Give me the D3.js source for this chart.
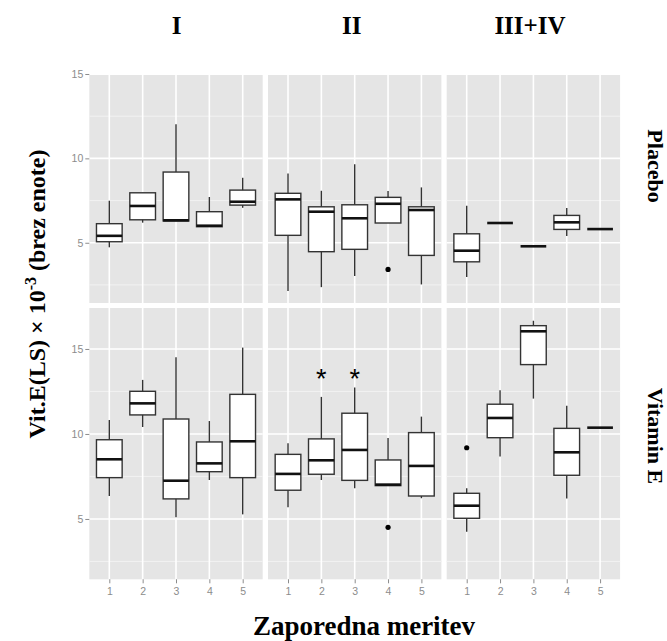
<!DOCTYPE html>
<html>
<head>
<meta charset="utf-8">
<script src="https://cdn.jsdelivr.net/npm/d3@7"></script>
<style>
  body { margin: 0; background: #fff; }
</style>
</head>
<body>
<div id="chart"></div>
<script>
// podatki: [spodnji brk, Q1, mediana, Q3, zgornji brk]
const groups = ['I', 'II', 'III+IV']
const treatments = ['Placebo', 'Vitamin E']
const measurements = ['1', '2', '3', '4', '5']
const yTicks = [5, 10, 15]
const yMinor = [2.5, 7.5, 12.5]

const placeboI = [[4.73, 5.06, 5.41, 6.13, 7.49], [6.19, 6.36, 7.18, 7.96, 7.96], [6.29, 6.29, 6.33, 9.19, 12.02], [5.95, 5.95, 6.01, 6.84, 7.71], [7.07, 7.23, 7.43, 8.12, 8.85]]
const placeboII = [[2.14, 5.44, 7.57, 7.93, 9.11], [2.37, 4.47, 6.84, 7.13, 8.08], [3.03, 4.61, 6.45, 7.25, 9.65], [6.17, 6.17, 7.31, 7.69, 8.06], [2.53, 4.25, 6.94, 7.13, 8.28]]
const placeboIII = [[2.97, 3.87, 4.53, 5.53, 7.19], [6.17, 6.17, 6.17, 6.17, 6.17], [4.79, 4.79, 4.79, 4.79, 4.79], [5.40, 5.79, 6.21, 6.62, 7.06], [5.81, 5.81, 5.81, 5.81, 5.81]]
const vitEI = [[6.35, 7.43, 8.51, 9.66, 10.82], [10.41, 11.12, 11.80, 12.51, 13.18], [5.10, 6.18, 7.25, 10.88, 14.51], [7.29, 7.78, 8.27, 9.53, 10.76], [5.27, 7.43, 9.57, 12.33, 15.08]]
const vitEII = [[5.69, 6.69, 7.65, 8.80, 9.45], [7.29, 7.63, 8.45, 9.71, 12.18], [6.80, 7.27, 9.06, 11.22, 12.73], [6.96, 6.96, 7.02, 8.47, 9.76], [6.22, 6.35, 8.12, 10.08, 11.02]]
const vitEIII = [[4.25, 5.04, 5.78, 6.51, 6.80], [8.67, 9.78, 10.94, 11.75, 12.57], [12.08, 14.08, 16.04, 16.37, 16.66], [6.20, 7.57, 8.92, 10.33, 11.66], [10.37, 10.37, 10.37, 10.37, 10.37]]

// osamelci: [meritev, vrednost]
const outPlaceboII = [['4', 3.42]]
const outVitEII = [['4', 4.51]]
const outVitEIII = [['1', 9.19]]
// zvezdice (znacilne razlike) v panelu II, vitamin E
const starsVitEII = ['2', '3']
const starY = 13.45

const panels = [
  { row: 0, col: 0, boxes: placeboI, out: [] },
  { row: 0, col: 1, boxes: placeboII, out: outPlaceboII },
  { row: 0, col: 2, boxes: placeboIII, out: [] },
  { row: 1, col: 0, boxes: vitEI, out: [] },
  { row: 1, col: 1, boxes: vitEII, out: outVitEII, stars: starsVitEII },
  { row: 1, col: 2, boxes: vitEIII, out: outVitEIII }
]

const WIDTH = 667
const HEIGHT = 641
const PANEL_W = 173.4
const COL_X = [89.3, 268, 446.7]
// vsaka vrstica ima svojo lestvico (zgornji panel je odrezan pri vrhu)
const yScales = [
  d3.scaleLinear().domain([1.43, 14.94]).range([303, 75]),
  d3.scaleLinear().domain([1.45, 17.41]).range([579.3, 308])
]
const xScales = COL_X.map(x0 => d3.scalePoint().domain(measurements).range([x0, x0 + PANEL_W]).padding(0.6))
const BOX_W = 0.77 * xScales[0].step()

const svg = d3.select('#chart').append('svg').attr('width', WIDTH).attr('height', HEIGHT)

const BG = '#E5E5E5'
const LINE = '#333333'
const TICK = '#8C8C8C'

panels.forEach(p => {
  const x = xScales[p.col]
  const y = yScales[p.row]
  const [x0, x1] = x.range()
  const [y0, y1] = y.range()
  const g = svg.append('g')

  g.append('rect').attr('x', x0).attr('y', y1).attr('width', x1 - x0).attr('height', y0 - y1).attr('fill', BG)

  g.selectAll('.minor').data(yMinor).enter().append('line')
    .attr('x1', x0).attr('x2', x1)
    .attr('y1', d => y(d)).attr('y2', d => y(d))
    .attr('stroke', '#F2F2F2').attr('stroke-width', 1)

  g.selectAll('.major').data(yTicks).enter().append('line')
    .attr('x1', x0).attr('x2', x1)
    .attr('y1', d => y(d)).attr('y2', d => y(d))
    .attr('stroke', '#fff').attr('stroke-width', 1.6)

  g.selectAll('.vgrid').data(measurements).enter().append('line')
    .attr('x1', d => x(d)).attr('x2', d => x(d))
    .attr('y1', y1).attr('y2', y0)
    .attr('stroke', '#fff').attr('stroke-width', 1.6)

  const boxes = g.selectAll('.box').data(p.boxes).enter().append('g')
  const mx = (d, i) => x(measurements[i])

  boxes.append('line')
    .attr('x1', mx).attr('x2', mx)
    .attr('y1', d => y(d[0])).attr('y2', d => y(d[4]))
    .attr('stroke', LINE).attr('stroke-width', 1.4)

  boxes.append('rect')
    .attr('x', (d, i) => mx(d, i) - BOX_W / 2)
    .attr('width', BOX_W)
    .attr('y', d => y(d[3]))
    .attr('height', d => y(d[1]) - y(d[3]))
    .attr('fill', '#fff')
    .attr('stroke', LINE).attr('stroke-width', 1.4)

  boxes.append('line')
    .attr('x1', (d, i) => mx(d, i) - BOX_W / 2).attr('x2', (d, i) => mx(d, i) + BOX_W / 2)
    .attr('y1', d => y(d[2])).attr('y2', d => y(d[2]))
    .attr('stroke', '#111').attr('stroke-width', 2.6)

  g.selectAll('.out').data(p.out).enter().append('circle')
    .attr('cx', d => x(d[0])).attr('cy', d => y(d[1]))
    .attr('r', 2.6).attr('fill', '#000')

  if (p.stars) {
    g.selectAll('.star').data(p.stars).enter().append('text')
      .attr('x', d => x(d)).attr('y', y(starY) + 13)
      .attr('text-anchor', 'middle')
      .attr('font-family', 'Liberation Sans, Arial, sans-serif')
      .attr('font-size', 27)
      .attr('fill', '#000')
      .text('*')
  }
})

// osi
yScales.forEach(y => {
  svg.append('g')
    .attr('transform', `translate(${COL_X[0]}, 0)`)
    .call(d3.axisLeft(y).tickValues(yTicks).tickSize(4).tickPadding(2))
    .call(a => a.select('.domain').remove())
    .call(a => a.selectAll('line').attr('stroke', TICK))
    .call(a => a.selectAll('text').attr('fill', TICK).attr('font-size', 10.5).attr('font-family', 'Liberation Sans, Arial, sans-serif'))
})

xScales.forEach(x => {
  svg.append('g')
    .attr('transform', `translate(0, ${yScales[1].range()[0]})`)
    .call(d3.axisBottom(x).tickSize(4).tickPadding(4))
    .call(a => a.select('.domain').remove())
    .call(a => a.selectAll('line').attr('stroke', TICK))
    .call(a => a.selectAll('text').attr('fill', TICK).attr('font-size', 10.5).attr('font-family', 'Liberation Sans, Arial, sans-serif'))
})

// napisi
const SERIF = 'Liberation Serif, Times New Roman, serif'
const colLabelX = [176.7, 351.7, 530]
svg.selectAll('.coltitle').data(groups).enter().append('text')
  .attr('x', (d, i) => colLabelX[i]).attr('y', 34)
  .attr('text-anchor', 'middle')
  .attr('font-family', SERIF).attr('font-weight', 'bold').attr('font-size', 25)
  .text(d => d)

const rowLabelY = [166, 436]
svg.selectAll('.rowtitle').data(treatments).enter().append('text')
  .attr('transform', (d, i) => `translate(648, ${rowLabelY[i]}) rotate(90)`)
  .attr('text-anchor', 'middle')
  .attr('font-family', SERIF).attr('font-weight', 'bold').attr('font-size', 22)
  .text(d => d)

svg.append('text')
  .attr('x', 364).attr('y', 635)
  .attr('text-anchor', 'middle')
  .attr('font-family', SERIF).attr('font-weight', 'bold').attr('font-size', 27)
  .text('Zaporedna meritev')

const yl = svg.append('text')
  .attr('transform', 'translate(45, 294) rotate(-90)')
  .attr('text-anchor', 'middle')
  .attr('font-family', SERIF).attr('font-weight', 'bold').attr('font-size', 24)
yl.append('tspan').text('Vit.E(LS) \u00D7 10')
yl.append('tspan').attr('dy', -9).attr('font-size', 16).text('-3')
yl.append('tspan').attr('dy', 9).text(' (brez enote)')
</script>
</body>
</html>
